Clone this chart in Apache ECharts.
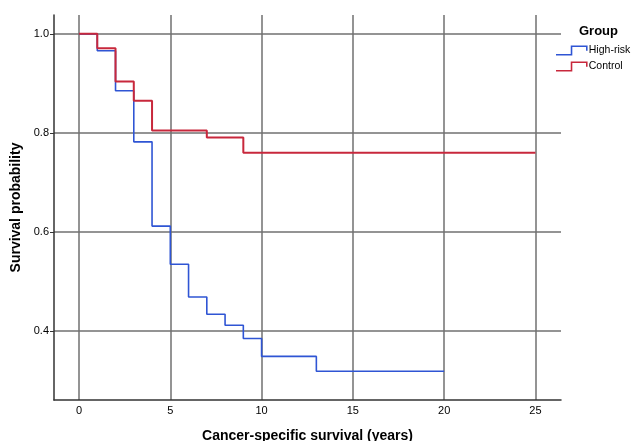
<!DOCTYPE html>
<html>
<head>
<meta charset="utf-8">
<script src="https://cdn.jsdelivr.net/npm/echarts@6/dist/echarts.min.js"></script>
<style>
html,body{margin:0;padding:0;background:#fff;}
#chart{width:632px;height:441px;}
</style>
</head>
<body>
<div id="chart"></div>
<script>
// Kaplan-Meier step data (time in years, survival probability after event)
const seriesNames = ['High-risk', 'Control'];
const highRiskTimes = [0, 1, 2, 3, 4, 5, 6, 7, 8, 9, 10, 13, 20];
const highRiskSurv  = [1.0, 0.966, 0.885, 0.782, 0.612, 0.535, 0.469, 0.434, 0.412, 0.385, 0.349, 0.319, 0.319];
const controlTimes  = [0, 1, 2, 3, 4, 7, 9, 25];
const controlSurv   = [1.0, 0.971, 0.904, 0.865, 0.805, 0.791, 0.760, 0.760];
const xTicks = [0, 5, 10, 15, 20, 25];
const yTicks = [0.4, 0.6, 0.8, 1.0];

const FONT = '"Liberation Sans", Arial, sans-serif';
const zip = (a, b) => a.map((t, i) => [t, b[i]]);
const stepIcon = 'path://M0,8 L14,8 L14,0 L30,0 L30,5 L28.5,5 L28.5,1.5 L15.5,1.5 L15.5,9.5 L0,9.5 Z';

const chart = echarts.init(document.getElementById('chart'), null, {renderer: 'canvas'});
chart.setOption({
  animation: false,
  backgroundColor: '#ffffff',
  title: {
    text: 'Group', left: 574, top: 20,
    textStyle: {fontFamily: FONT, fontSize: 13, fontWeight: 'bold', color: '#000'}
  },
  legend: {
    orient: 'vertical', left: 551, top: 40, itemGap: 5,
    itemWidth: 32, itemHeight: 10,
    data: seriesNames.map(n => ({name: n, icon: stepIcon})),
    textStyle: {fontFamily: FONT, fontSize: 10.5, color: '#000', padding: [0, 0, 0, -4]}
  },
  grid: {left: 54, right: 71, top: 15, bottom: 41, containLabel: false, outerBoundsMode: 'none'},
  xAxis: {
    type: 'value', min: -1.37, max: 26.4, splitNumber: 5,
    name: 'Cancer-specific survival (years)', nameLocation: 'middle', nameGap: 29,
    nameTextStyle: {fontFamily: FONT, fontSize: 14, fontWeight: 'bold', color: '#000'},
    axisLine: {show: true, onZero: false, lineStyle: {color: '#333', width: 1.5}},
    axisTick: {show: false},
    axisLabel: {
      fontFamily: FONT, fontSize: 11, color: '#000', margin: 5,
      customValues: xTicks,
      formatter: v => (xTicks.indexOf(Math.round(v * 1000) / 1000) >= 0 ? String(v) : '')
    },
    splitLine: {show: true, showMinLine: false, showMaxLine: false, lineStyle: {color: '#707070', width: 1.5}}
  },
  yAxis: {
    type: 'value', min: 0.261, max: 1.038, splitNumber: 4,
    name: 'Survival probability', nameLocation: 'middle', nameGap: 27, nameRotate: 90,
    nameTextStyle: {fontFamily: FONT, fontSize: 14, fontWeight: 'bold', color: '#000'},
    axisLine: {show: true, onZero: false, lineStyle: {color: '#333', width: 1.5}},
    axisTick: {show: true, length: 4, customValues: yTicks, lineStyle: {color: '#333'}},
    axisLabel: {
      fontFamily: FONT, fontSize: 11, color: '#000', margin: 5,
      customValues: yTicks,
      formatter: v => v.toFixed(1)
    },
    splitLine: {show: true, showMinLine: true, showMaxLine: true, lineStyle: {color: '#707070', width: 1.5}}
  },
  series: [
    {
      name: seriesNames[0], type: 'line', step: 'end', symbol: 'none',
      data: zip(highRiskTimes, highRiskSurv),
      lineStyle: {color: '#2f55d4', width: 1.6}, itemStyle: {color: '#2f55d4'}, z: 3
    },
    {
      name: seriesNames[1], type: 'line', step: 'end', symbol: 'none',
      data: zip(controlTimes, controlSurv),
      lineStyle: {color: '#c8283c', width: 2}, itemStyle: {color: '#c8283c'}, z: 4
    }
  ]
});
</script>
</body>
</html>
